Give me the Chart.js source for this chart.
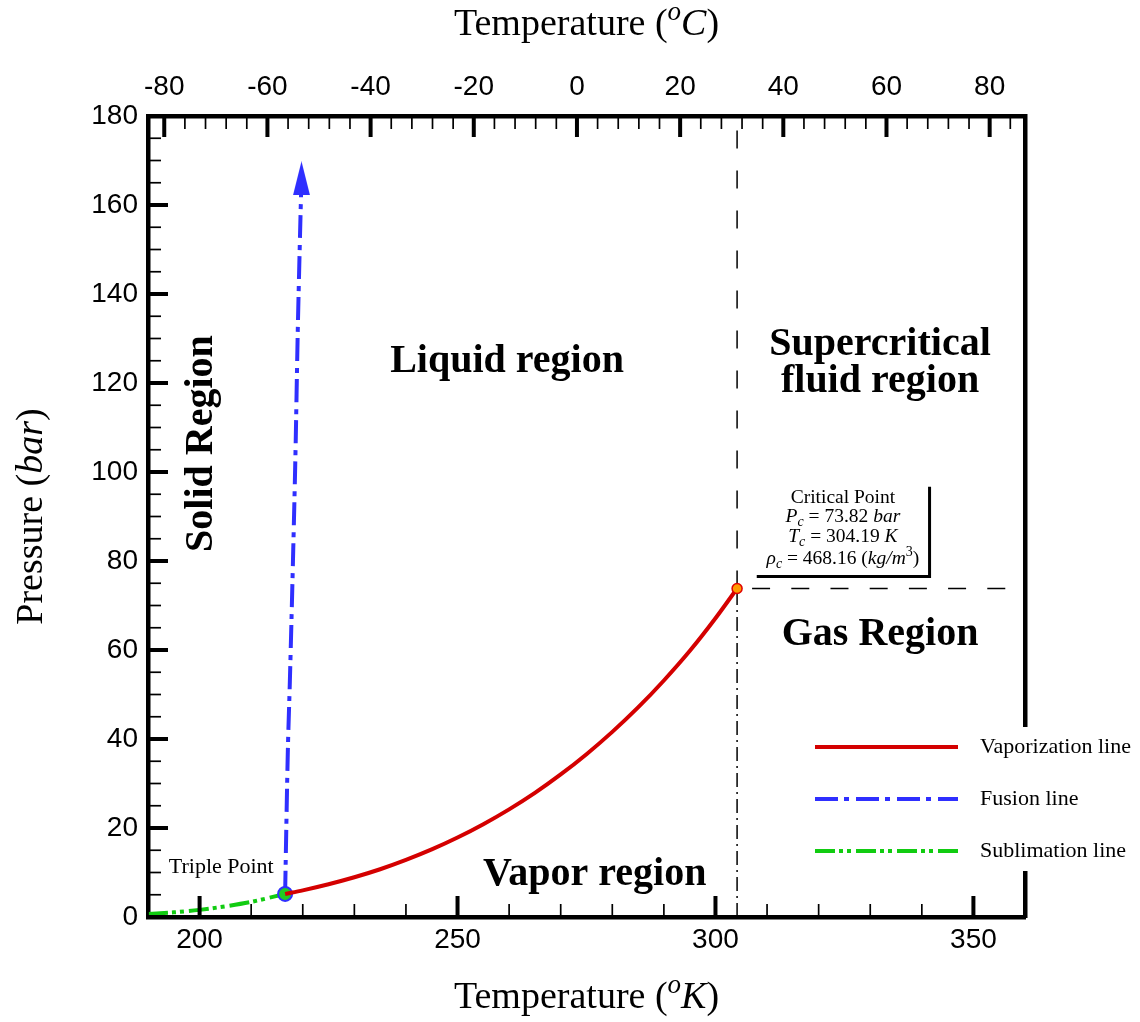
<!DOCTYPE html>
<html>
<head>
<meta charset="utf-8">
<script src="https://cdn.jsdelivr.net/npm/chart.js@4.4.1/dist/chart.umd.min.js"></script>
<style>
  html, body { margin: 0; padding: 0; background: #fff; }
</style>
</head>
<body>
<canvas id="phase" width="1140" height="1022"></canvas>
<script>
// CO2 phase diagram: temperature (K / °C) vs pressure (bar)
const tMin = 190, tMax = 360;
const kelvinTicks = [200, 250, 300, 350];
const celsiusTicks = [-80, -60, -40, -20, 0, 20, 40, 60, 80];
const pressureTicks = [0, 20, 40, 60, 80, 100, 120, 140, 160, 180];

const vapT = [216.58, 220, 225, 230, 235, 240, 245, 250, 255, 260, 265, 270, 275, 280, 285, 290, 295, 300, 304.19];
const vapP = [5.18, 5.99, 7.36, 8.93, 10.73, 12.83, 15.18, 17.85, 20.85, 24.19, 27.89, 32.03, 36.59, 41.6, 47.09, 53.15, 59.76, 67.13, 73.82];

const fusT = [216.58, 216.7, 217.1, 217.5, 218.1, 218.6, 219.0, 219.4, 219.75];
const fusP = [5.18, 13, 37, 53, 80, 105, 130, 150, 166];

const subT = [190, 195, 200, 205, 210, 216.58];
const subP = [0.7, 1.05, 1.6, 2.4, 3.4, 5.18];

const triplePoint = [216.58, 5.18];
const criticalPoint = [304.19, 73.82];

const SERIF = "'Liberation Serif', 'Times New Roman', serif";
const SANS = "'Liberation Sans', Arial, sans-serif";

function range(a, b, step) {
  const out = [];
  for (let v = a; v <= b + 1e-9; v += step) out.push(Math.round(v * 100) / 100);
  return out;
}
const toXY = (xs, ys) => xs.map((x, i) => ({ x, y: ys[i] }));

function makeArrow(w, h, color) {
  const c = document.createElement('canvas');
  c.width = w; c.height = h;
  const g = c.getContext('2d');
  g.fillStyle = color;
  g.beginPath(); g.moveTo(w / 2, 0); g.lineTo(w, h); g.lineTo(0, h); g.closePath(); g.fill();
  return c;
}
const arrow = makeArrow(17, 34, '#2f2fff');

// parts: {t, i: italic, s: 'sub' | 'sup'}
function drawRich(ctx, parts, x, y, size, weight) {
  const fontFor = p => `${p.i ? 'italic ' : ''}${weight || 'normal'} ${p.s ? Math.round(size * 0.7) : size}px ${SERIF}`;
  let total = 0;
  parts.forEach(p => { ctx.font = fontFor(p); p.w = ctx.measureText(p.t).width; total += p.w; });
  let cx = x - total / 2;
  ctx.textAlign = 'left';
  ctx.textBaseline = 'alphabetic';
  parts.forEach(p => {
    ctx.font = fontFor(p);
    const dy = p.s === 'sub' ? size * 0.22 : p.s === 'sup' ? -size * 0.4 : 0;
    ctx.fillText(p.t, cx, y + dy);
    cx += p.w;
  });
}

const regionLabels = [
  { parts: [{ t: 'Liquid region' }], t: 259.6, p: 122.4 },
  { parts: [{ t: 'Supercritical' }], t: 331.9, p: 126.4 },
  { parts: [{ t: 'fluid region' }], t: 331.9, p: 117.9 },
  { parts: [{ t: 'Gas Region' }], t: 331.9, p: 61.2 },
  { parts: [{ t: 'Vapor region' }], t: 276.6, p: 7.2 },
  { parts: [{ t: 'Solid Region' }], t: 202.4, p: 106.4, rot: true }
];

const critLines = [
  { parts: [{ t: 'Critical Point' }], p: 93.1 },
  { parts: [{ t: 'P', i: 1 }, { t: 'c', i: 1, s: 'sub' }, { t: ' = 73.82 ' }, { t: 'bar', i: 1 }], p: 88.8 },
  { parts: [{ t: 'T', i: 1 }, { t: 'c', i: 1, s: 'sub' }, { t: ' = 304.19 ' }, { t: 'K', i: 1 }], p: 84.3 },
  { parts: [{ t: 'ρ', i: 1 }, { t: 'c', i: 1, s: 'sub' }, { t: ' = 468.16 (' }, { t: 'kg/m', i: 1 }, { t: '3', s: 'sup' }, { t: ')' }], p: 79.3 }
];

const legendItems = ['Vaporization line', 'Fusion line', 'Sublimation line'];

const phasePlugin = {
  id: 'phase',
  afterDatasetsDraw(chart) {
    const { ctx, scales: { x, y } } = chart;
    ctx.save();
    ctx.fillStyle = '#000';
    regionLabels.forEach(l => {
      const px = x.getPixelForValue(l.t), py = y.getPixelForValue(l.p);
      if (l.rot) {
        ctx.save(); ctx.translate(px, py); ctx.rotate(-Math.PI / 2);
        drawRich(ctx, l.parts, 0, 0, 40, 'bold');
        ctx.restore();
      } else {
        drawRich(ctx, l.parts, px, py, 40, 'bold');
      }
    });
    drawRich(ctx, [{ t: 'Triple Point' }], x.getPixelForValue(204.2), y.getPixelForValue(9.9), 22);

    // critical point box
    const cxm = x.getPixelForValue(324.7);
    critLines.forEach(l => drawRich(ctx, l.parts, cxm, y.getPixelForValue(l.p), 19.5));
    ctx.strokeStyle = '#000';
    ctx.lineWidth = 3;
    ctx.beginPath();
    ctx.moveTo(x.getPixelForValue(308.0), y.getPixelForValue(76.5));
    ctx.lineTo(x.getPixelForValue(341.5), y.getPixelForValue(76.5));
    ctx.lineTo(x.getPixelForValue(341.5), y.getPixelForValue(96.7));
    ctx.stroke();
    ctx.restore();
  },
  afterDraw(chart) {
    const { ctx, chartArea: a, scales } = chart;
    ctx.save();
    ctx.strokeStyle = '#000';
    // inward ticks
    const mark = (scale, values, len, lw) => {
      ctx.lineWidth = lw;
      values.forEach(v => {
        const p = scale.getPixelForValue(v);
        ctx.beginPath();
        if (scale.id === 'y') { ctx.moveTo(a.left, p); ctx.lineTo(a.left + len, p); }
        else if (scale.id === 'x') { ctx.moveTo(p, a.bottom); ctx.lineTo(p, a.bottom - len); }
        else { ctx.moveTo(p, a.top); ctx.lineTo(p, a.top + len); }
        ctx.stroke();
      });
    };
    mark(scales.x, range(190, 360, 10), 13, 1.7);
    mark(scales.x, kelvinTicks, 21, 4);
    mark(scales.xTop, range(-80, 84, 4), 13, 1.7);
    mark(scales.xTop, celsiusTicks, 21, 4);
    mark(scales.y, range(0, 180, 5), 13, 1.7);
    mark(scales.y, pressureTicks, 20, 4);

    // axis titles
    ctx.fillStyle = '#000';
    const midX = (a.left + a.right) / 2;
    drawRich(ctx, [{ t: 'Temperature (' }, { t: 'o', i: 1, s: 'sup' }, { t: 'C', i: 1 }, { t: ')' }], midX, a.top - 81, 38);
    drawRich(ctx, [{ t: 'Temperature (' }, { t: 'o', i: 1, s: 'sup' }, { t: 'K', i: 1 }, { t: ')' }], midX, a.bottom + 91, 38);
    ctx.save();
    ctx.translate(a.left - 106, (a.top + a.bottom) / 2);
    ctx.rotate(-Math.PI / 2);
    drawRich(ctx, [{ t: 'Pressure (' }, { t: 'bar', i: 1 }, { t: ')' }], 0, 0, 38);
    ctx.restore();

    // legend with white box over the frame
    const lx = a.right - 225, top = a.bottom - 190;
    ctx.fillStyle = '#fff';
    ctx.fillRect(lx, top, chart.width - lx, 144);
    legendItems.forEach((name, i) => {
      const ds = chart.data.datasets.find(d => d.label === name);
      const ly = a.bottom - 170 + i * 52;
      ctx.strokeStyle = ds.borderColor;
      ctx.lineWidth = 4;
      ctx.setLineDash(ds.borderDash || []);
      ctx.beginPath(); ctx.moveTo(lx + 15, ly); ctx.lineTo(lx + 158, ly); ctx.stroke();
      ctx.setLineDash([]);
      ctx.fillStyle = '#000';
      ctx.font = `22px ${SERIF}`;
      ctx.textAlign = 'left'; ctx.textBaseline = 'middle';
      ctx.fillText(name, lx + 180, ly);
    });
    ctx.restore();
  }
};

const noGrid = { display: false, drawTicks: false };
const frame = { display: true, color: '#000', width: 4.5 };
const tickFont = { family: SANS, size: 28 };

new Chart(document.getElementById('phase'), {
  type: 'scatter',
  data: {
    datasets: [
      { label: 'Critical Point', data: [{ x: criticalPoint[0], y: criticalPoint[1] }], pointRadius: 5,
        pointBackgroundColor: '#ff9a00', pointBorderColor: '#e00000', pointBorderWidth: 1.5, order: 0 },
      { label: 'Vaporization line', data: toXY(vapT, vapP), showLine: true, borderColor: '#d40000',
        borderWidth: 4, pointRadius: 0, cubicInterpolationMode: 'monotone', order: 1 },
      { label: 'Triple Point', data: [{ x: triplePoint[0], y: triplePoint[1] }], pointRadius: 7,
        pointBackgroundColor: '#22cc22', pointBorderColor: '#2f2fff', pointBorderWidth: 2, order: 2 },
      { label: 'Fusion line', data: toXY(fusT, fusP), showLine: true, borderColor: '#2f2fff', borderWidth: 4,
        borderDash: [23, 6, 5, 7], cubicInterpolationMode: 'monotone',
        pointRadius: fusT.map((_, i) => i === fusT.length - 1 ? 1 : 0),
        pointStyle: fusT.map((_, i) => i === fusT.length - 1 ? arrow : 'circle'), order: 3 },
      { label: 'Sublimation line', data: toXY(subT, subP), showLine: true, borderColor: '#11cc11', borderWidth: 4,
        borderDash: [20, 4, 4, 4, 4, 5], pointRadius: 0, cubicInterpolationMode: 'monotone', order: 4 },
      { label: 'critUp', data: [{ x: criticalPoint[0], y: criticalPoint[1] }, { x: criticalPoint[0], y: 180 }],
        showLine: true, borderColor: '#000', borderWidth: 1.5, borderDash: [18, 22], pointRadius: 0, order: 5 },
      { label: 'critDown', data: [{ x: criticalPoint[0], y: 0 }, { x: criticalPoint[0], y: criticalPoint[1] }],
        showLine: true, borderColor: '#000', borderWidth: 1.5, borderDash: [14, 5, 2, 5], pointRadius: 0, order: 5 },
      { label: 'critHoriz', data: [{ x: criticalPoint[0], y: criticalPoint[1] }, { x: 357.5, y: criticalPoint[1] }],
        showLine: true, borderColor: '#000', borderWidth: 1.5, borderDash: [18, 21.2], borderDashOffset: 24.2,
        pointRadius: 0, order: 5 }
    ]
  },
  options: {
    responsive: false,
    animation: false,
    events: [],
    layout: { padding: 0 },
    plugins: { legend: { display: false }, tooltip: { enabled: false } },
    scales: {
      x: {
        type: 'linear', position: 'bottom', min: tMin, max: tMax,
        grid: noGrid, border: frame,
        afterBuildTicks: s => { s.ticks = kelvinTicks.map(v => ({ value: v })); },
        afterFit: s => { s.height = 105; },
        ticks: { font: tickFont, color: '#000', padding: 6, maxRotation: 0, autoSkip: false }
      },
      xTop: {
        type: 'linear', axis: 'x', position: 'top', min: tMin - 273.15, max: tMax - 273.15,
        grid: noGrid, border: frame,
        afterBuildTicks: s => { s.ticks = celsiusTicks.map(v => ({ value: v })); },
        afterFit: s => { s.height = 116; },
        ticks: { font: tickFont, color: '#000', padding: 12, maxRotation: 0, autoSkip: false }
      },
      y: {
        type: 'linear', position: 'left', min: 0, max: 180,
        grid: noGrid, border: frame,
        afterBuildTicks: s => { s.ticks = pressureTicks.map(v => ({ value: v })); },
        afterFit: s => { s.width = 148; },
        ticks: { font: tickFont, color: '#000', padding: 10, autoSkip: false }
      },
      yRight: {
        type: 'linear', axis: 'y', position: 'right', min: 0, max: 180,
        grid: noGrid, border: frame,
        afterFit: s => { s.width = 115; },
        ticks: { display: false }
      }
    }
  },
  plugins: [phasePlugin]
});
</script>
</body>
</html>
